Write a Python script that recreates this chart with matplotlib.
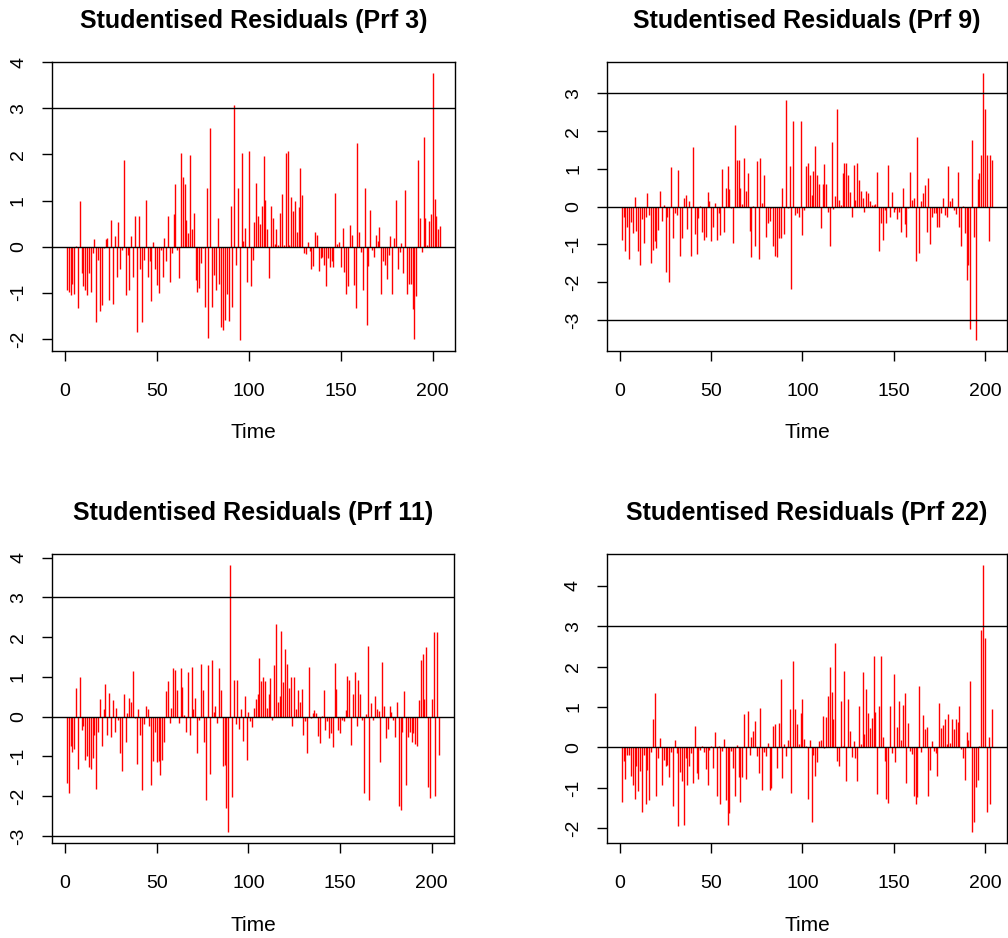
import matplotlib
matplotlib.use("Agg")
import matplotlib.pyplot as plt
import numpy as np

plt.rcParams['font.family'] = ['Liberation Sans', 'DejaVu Sans']
plt.rcParams['axes.unicode_minus'] = False

titles = ["Studentised Residuals (Prf 3)", "Studentised Residuals (Prf 9)",
          "Studentised Residuals (Prf 11)", "Studentised Residuals (Prf 22)"]
x_label = "Time"
x_ticks = [0, 50, 100, 150, 200]

prf3 = [
    -0.93, -0.98, -1.04, -0.81, -1.03, 0.02, -1.34, 0.98, -0.57, -0.86,
    -0.93, -1.04, -0.57, -0.98, -0.14, 0.16, -1.63, -0.29, -1.40, -1.27,
    -0.04, 0.16, 0.18, -1.15, 0.57, -1.24, 0.22, -0.65, 0.54, -0.48,
    -0.07, 1.87, -1.05, -0.19, -0.93, 0.22, -0.65, 0.67, -1.84, 0.67,
    -0.48, -1.63, -0.29, 1.01, -0.65, -0.32, -1.18, 0.09, -0.48, -0.84,
    -1.00, -0.07, -0.65, 0.19, -0.32, 0.67, -0.77, -0.14, 0.70, 1.36,
    -0.07, -0.67,
    2.02, 1.52, 1.36, 0.57, 0.29, 1.99, 0.39, 0.73, -0.72, -0.98,
    -0.90, -0.36, -0.03, -1.30, 1.27, -1.97, 2.57, -1.30, -0.61, -0.93,
    0.63, -0.82, -1.74, -1.81, -1.59, -1.03, -1.61, 0.88, -1.30, 3.06,
    -0.39, 1.27, -2.03, 2.04, 0.13, 0.41, -0.77, 2.08, -0.86, -0.30,
    0.54, 1.38, 0.66, 0.50, 0.88, 1.96, 1.02, 0.39, -0.67, 0.88,
    0.63, 0.06, 0.38, 0.04, 0.73, 1.15, 0.04, 2.02, 2.08, 0.04,
    1.08, 0.77, 0.99, 0.32, 0.85, 1.71, 1.11, -0.14, -0.17, 0.09,
    -0.09, -0.49, -0.42, 0.32,
    0.25, -0.52, -0.25, -0.22, -0.39, -0.86, -0.25, -0.45, -0.32, -0.45,
    1.17, 0.05, 0.09, -0.45, 0.41, -0.55, -1.03, -0.86, 0.47, 0.25,
    -0.84, -1.34, 2.25, 0.31, -0.11, -0.95, 1.27, -1.69, -0.43, 0.79,
    -0.07, -0.22, 0.25, 0.12, 0.43, -1.03, -0.31, -0.39, -0.70, -0.19,
    0.22, -1.03, 0.18, 1.02, -0.48, -0.11, 0.07, -0.57, 1.23, -1.03,
    -0.81, -0.81, -1.36, -2.00, -1.08, 1.87, 0.61, -0.11, 2.38, 0.61,
    0.03, 0.55, 0.70, 3.77, 1.04, 0.67, 0.39, 0.44,
]

prf9 = [
    -0.88, -0.26, -1.18, -0.53, -1.38, -0.41, -0.70, 0.26, -0.64, -1.18,
    -1.54, -0.33, -0.95, -0.26, 0.35, -0.22, -1.49, -1.14, -0.92, -1.10,
    -0.61, 0.42, -0.38, 0.04, -1.73, -0.26, -1.99, 1.04, -0.83, -0.18,
    -0.22, 0.96, -1.30, -0.83, 0.24, 0.31, -0.60, 0.15, -1.30, 1.58,
    -0.72, -1.25, -0.29, 0.03, -0.68, -0.88, -0.79, 0.38, 0.15, -0.92,
    -0.53, 0.11, -0.88, -0.18, -0.76, 1.01, -0.68, 0.50, 1.08, 0.46,
    -0.04, -0.95,
    2.17, 1.23, 1.23, 0.50, 0.07, 1.30, 0.42, 0.88, -0.64, -1.34,
    0.03, -1.03, 1.20, -1.38, 1.30, 0.11, 0.85, -0.79, -0.44, -0.38,
    -0.04, -1.03, -1.30, -1.34, -0.82, -0.83, 0.50, -0.72, 2.82, -0.04,
    1.08, -2.19, 2.28, -0.22, -0.18, -0.26, 2.28, -0.76, -0.09, 1.08,
    1.16, 0.85, 0.31, 0.94, 1.60, 0.83, 0.59, -0.57, 0.61, 1.12,
    0.61, -0.13, -1.03, 1.71, -0.06, 0.28, 2.59, 0.18, 0.04, 0.88,
    1.16, 1.16, 0.85, 0.39, -0.28, 1.11, 0.19, 1.16, 0.70, 0.42,
    0.22, -0.13, 0.42, 0.35,
    0.15, 0.04, 0.04, 0.06, 0.92, -1.18, -0.42, -0.88, -0.09, -0.42,
    1.11, -0.26, 0.38, -0.13, -0.07, -0.33, -0.13, -0.68, 0.50, -0.46,
    -0.81, -0.04, 0.92, 0.19, 0.22, -1.45, 1.84, -1.23, 0.15, 0.35,
    0.57, -0.68, 0.76, -0.99, -0.26, -0.18, -0.18, -0.53, -0.53, -0.18,
    0.22, -0.22, -0.28, 1.08, 0.16, 0.22, -0.09, -0.19, 0.92, -0.53,
    -1.03, 0.03, -0.70, -1.95, -1.54, -3.23, 1.77, -0.79, -3.54, 0.73,
    0.88, 1.38, 3.55, 2.59, 1.38, -0.92, 1.36, 1.23,
]

prf11 = [
    -1.66, -1.92, -0.75, -0.90, -0.81, 0.71, -1.33, 1.00, -0.34, -0.23,
    -1.08, -0.98, -1.26, -1.33, -1.04, -0.46, -1.81, -0.40, 0.45, -0.73,
    0.18, 0.82, -0.46, 0.60, -0.52, 0.41, -0.40, 0.22, -0.08, -0.92,
    -1.37, 0.56, -0.63, 0.08, 0.47, 0.37, 1.14, -0.04, -1.19, 0.20,
    -0.46, -1.84, -0.19, 0.27, 0.18, -0.23, -1.73, -1.11, -0.38, -1.15,
    -1.11, -1.48, -1.08, -0.63, 0.64, 0.89, -0.17, 0.22, 1.22, 1.18,
    0.66, -0.17,
    1.22, 0.74, 0.03, -0.38, 1.11, -0.46, 1.25, 0.20, 0.47, -0.92,
    -0.08, 1.33, 0.66, -0.63, -2.10, 1.29, -1.44, 1.43, 0.12, 0.27,
    -0.17, 1.22, 0.66, -1.25, -1.23, -2.29, -2.91, 3.82, -2.02, 0.91,
    -0.19, 0.91, -0.32, 0.20, -0.61, 0.52, -1.08, 0.12, -0.12, -0.27,
    0.22, 0.45, 0.58, 1.47, 0.89, 1.00, 0.89, 0.22, 0.58, 0.96,
    -0.08, 1.29, 2.34, 0.37, 0.52, 2.16, 0.86, 1.70, 1.32, 0.71,
    1.00, -0.23, 1.00, 0.20, 0.66, 0.37, 0.70, -0.46, -0.12, -0.92,
    1.25, -0.04, 0.08, 0.16,
    0.08, -0.48, -0.67, 0.02, 0.66, -0.33, -0.12, -0.55, -0.42, -0.77,
    1.36, 0.70, -0.33, -0.42, -0.08, -0.12, 0.16, 1.03, 0.91, -0.71,
    0.56, 1.11, -0.23, 0.93, 0.56, -0.08, -1.92, 0.06, 1.78, -2.10,
    0.33, -0.08, 0.52, 0.20, 0.14, -1.15, 1.37, 0.27, -0.55, -0.30,
    0.27, 0.12, -0.08, -0.52, 0.37, -2.24, -2.35, -0.38, 0.64, -1.73,
    -0.52, -0.38, -0.63, -0.42, -0.69, -0.73, 0.41, 1.43, 1.58, 0.45,
    1.76, -1.77, -2.06, 0.45, 2.14, -2.00, 2.14, -0.96,
]

prf22 = [
    -1.35, -0.33, -0.79, -0.18, -0.20, -0.70, -0.92, -1.27, -0.45, -1.08,
    -0.59, -1.59, -0.19, -1.41, -0.56, -1.31, -0.11, 0.70, 1.35, -1.20,
    -0.26, 0.23, -0.94, -0.30, -0.47, -0.43, -0.74, -0.12, -1.45, 0.19,
    -0.14, -1.95, -0.60, -0.83, -1.92, -0.27, -0.94, -0.47, -0.14, -0.88,
    0.52, -0.63, -0.79, -0.07, 0.03, -0.12, -0.53, -0.92, -0.07, 0.04,
    -0.52, 0.37, -1.20, 0.04, -1.41, -0.08, 0.22, -1.31, -1.92, -1.62,
    -0.08, -0.52,
    -1.20, 0.07, -0.74, -1.35, -0.74, 0.83, -0.79, 0.90, -0.18, 0.25,
    0.41, 0.65, -0.22, -0.63, 0.98, -1.05, -0.12, -0.22, 0.12, -1.05,
    -1.00, 0.52, 0.59, -0.51, 0.61, 1.70, -0.76, 0.08, -0.22, 0.19,
    0.94, -1.13, 2.14, 0.94, 0.59, 0.08, 0.84, 1.20, 0.22, 0.03,
    -1.27, 0.19, -1.84, -0.19, -0.70, -0.37, 0.15, 0.19, 0.78, -0.02,
    0.74, 1.28, 2.00, 1.37, 0.70, 2.58, -0.33, -0.47, 1.16, 0.04,
    1.88, -0.83, 1.20, 0.41, -0.23, 0.15, -0.26, -0.83, 1.02, 0.08,
    1.86, 0.33, 1.45, 0.86,
    0.47, 0.72, 2.25, 0.87, -1.16, 1.02, 2.27, 0.26, -0.33, -1.27,
    -1.37, 1.02, -0.14, 1.82, -0.37, 0.51, 1.16, 0.19, 1.06, 1.35,
    -0.87, 0.61, -0.08, -0.16, -1.19, -1.41, -1.23, 1.53, -0.11, 0.80,
    0.45, 0.51, -1.20, -0.55, 0.15, -0.10, -0.14, -0.70, 1.09, 0.47,
    0.55, 0.70, 0.08, 0.83, 0.12, 0.70, 0.45, 0.70, 0.63, 1.02,
    -0.04, -0.26, -0.80, 0.37, 0.19, 1.64, -2.10, -1.84, -0.98, -0.80,
    0.03, 2.90, 4.52, 2.71, -1.59, 0.26, -1.41, 0.96,
]

series = [prf3, prf9, prf11, prf22]
y_ticks = [[-2, -1, 0, 1, 2, 3, 4], [-3, -2, -1, 0, 1, 2, 3],
           [-3, -2, -1, 0, 1, 2, 3, 4], [-2, -1, 0, 1, 2, 3, 4]]

W, H = 1008, 938
fig = plt.figure(figsize=(W / 100, H / 100), dpi=100)

# axes boxes in pixels: left, top, right, bottom
boxes = [(52, 62, 455, 351), (607, 62, 1007, 351),
         (52, 554, 454, 843), (607, 554, 1007, 843)]

for vals, title, yt, (l, t, r, b) in zip(series, titles, y_ticks, boxes):
    ax = fig.add_axes([l / W, 1 - b / H, (r - l) / W, (b - t) / H])
    v = np.array(vals)
    x = np.arange(1, len(v) + 1)
    ax.vlines(x, 0, v, colors='#ff0000', linewidth=1.0)
    for h in (0, 3, -3):
        ax.axhline(h, color='black', linewidth=1.0, zorder=3)
    xr = x.max() - x.min()
    ax.set_xlim(x.min() - 0.04 * xr, x.max() + 0.04 * xr)
    yr = v.max() - v.min()
    ax.set_ylim(v.min() - 0.04 * yr, v.max() + 0.04 * yr)
    ax.set_xticks(x_ticks)
    ax.set_yticks(yt)
    ax.tick_params(axis='both', direction='out', length=7, width=1.0,
                   labelsize=14, colors='black')
    ax.tick_params(axis='x', pad=16)
    ax.tick_params(axis='y', pad=11, labelrotation=90)
    for lab in ax.get_yticklabels():
        lab.set_va('center')
    for s in ax.spines.values():
        s.set_linewidth(1.0)
    cx = (l + r) / 2
    fig.text(cx / W, 1 - (t - 41) / H, title, ha='center', va='center',
             fontsize=18, fontweight='bold')
    fig.text(cx / W, 1 - (b + 82) / H, x_label, ha='center', va='center',
             fontsize=15)

fig.savefig("out.png", dpi=100)
